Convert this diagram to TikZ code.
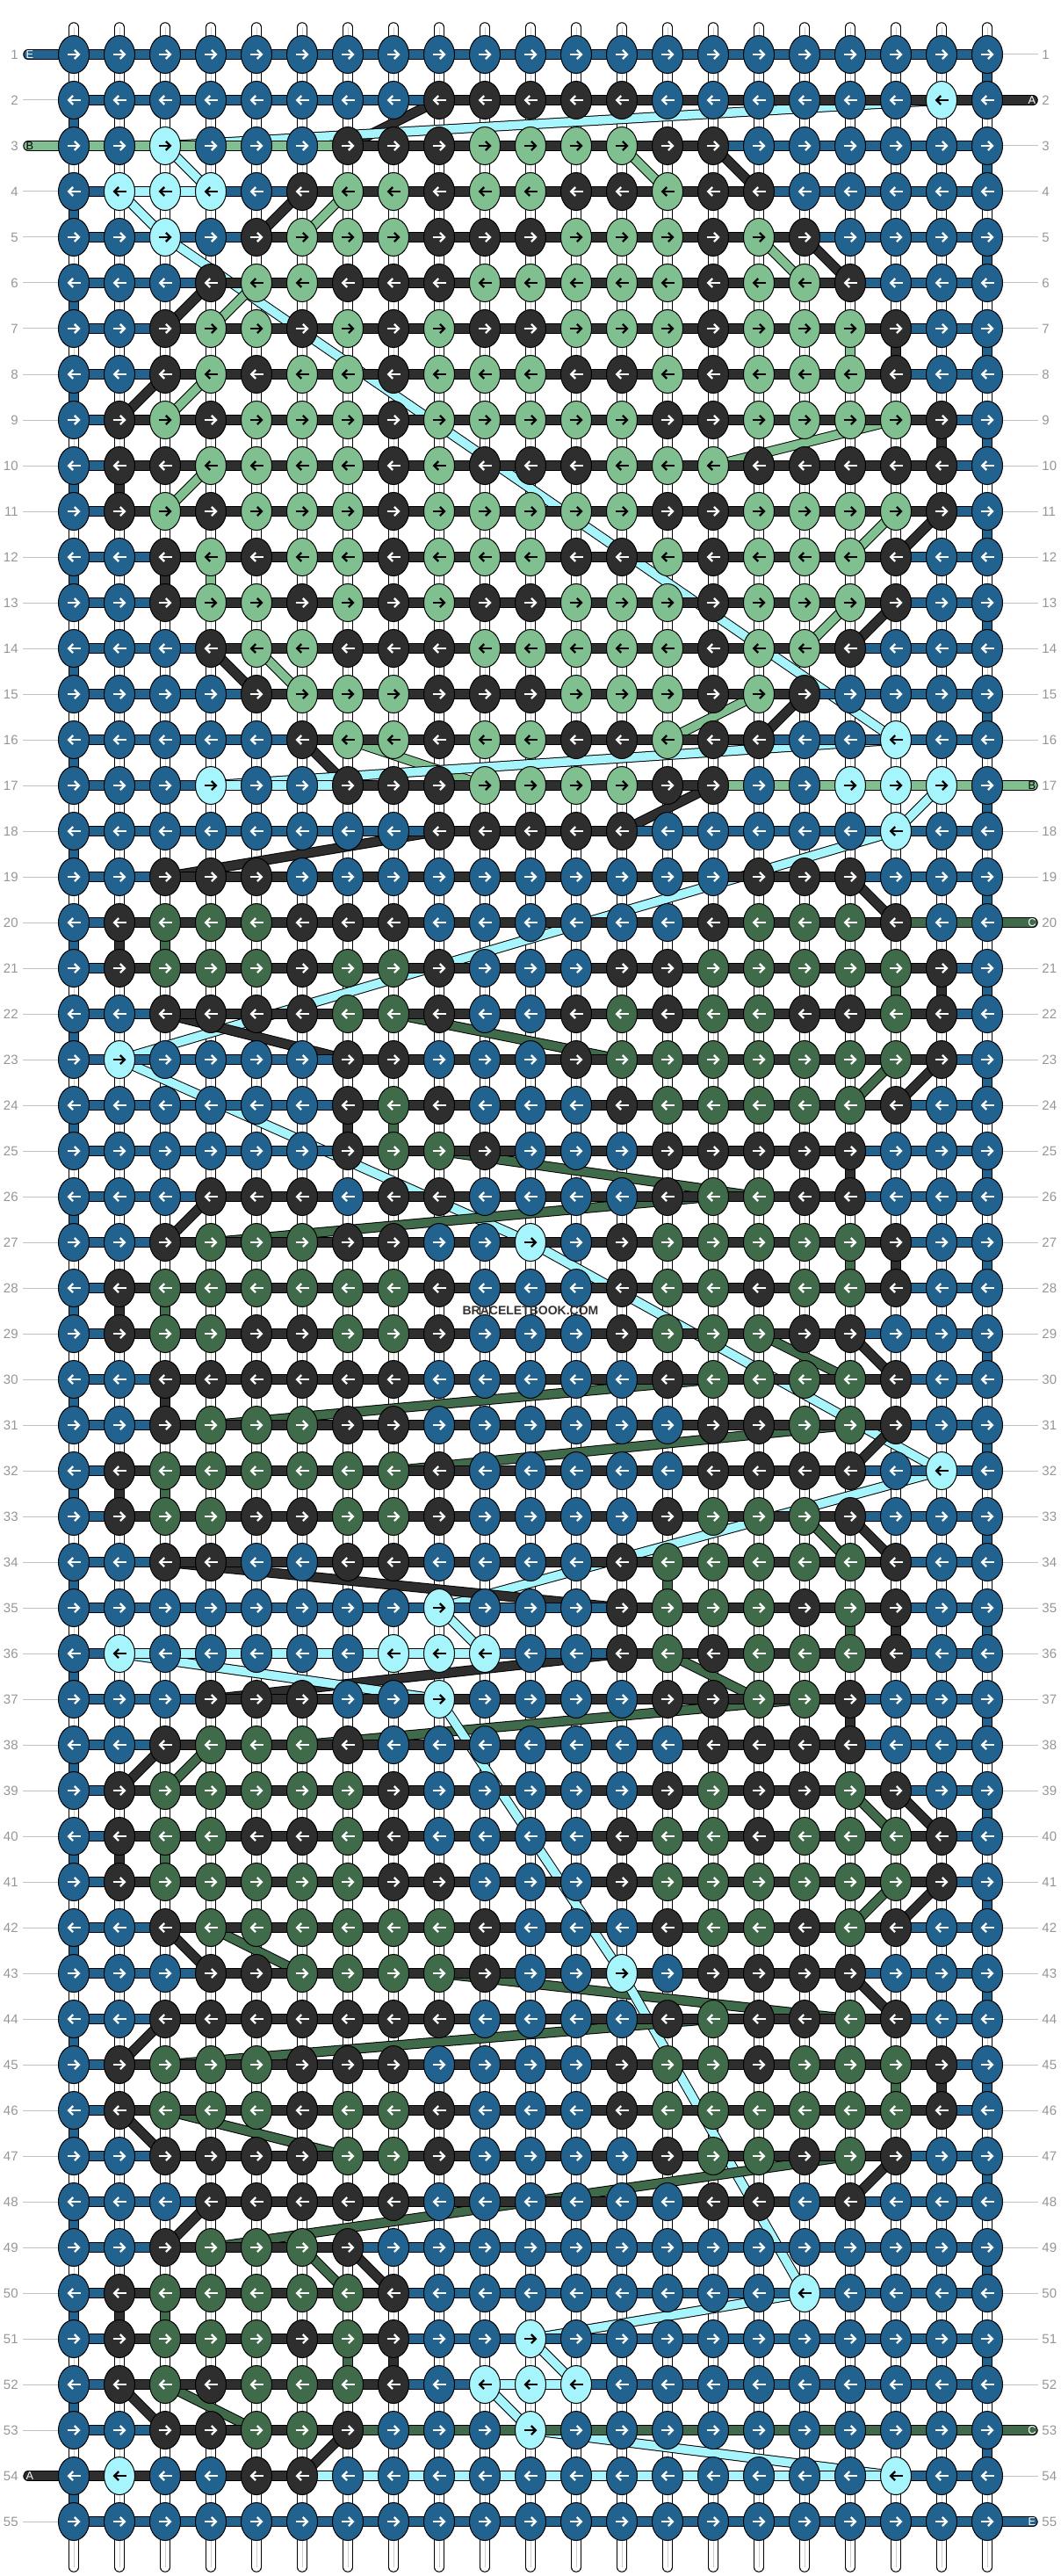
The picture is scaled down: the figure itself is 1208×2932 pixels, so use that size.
\documentclass[tikz,border=0pt]{standalone}
\usepackage{fontspec}
\setmainfont{Liberation Sans}
\usetikzlibrary{arrows.meta,backgrounds,shapes.geometric}
\definecolor{threadb}{RGB}{33,98,143}
\definecolor{threadk}{RGB}{46,46,46}
\definecolor{threadg}{RGB}{128,192,144}
\definecolor{threadd}{RGB}{64,107,74}
\definecolor{threadc}{RGB}{166,245,252}
\definecolor{rowgray}{RGB}{150,150,150}
\pgfdeclarelayer{warp}
\pgfdeclarelayer{diag}
\pgfdeclarelayer{weft}
\pgfsetlayers{warp,diag,weft,main}
\begin{document}
\begin{tikzpicture}[x=0.5pt,y=-0.5pt]
  \newcommand{\Xfirst}[0]{ 84 }
  \newcommand{\Yfirst}[0]{ 62 }
  \newcommand{\Xstep}[0]{ 52 }
  \newcommand{\Ystep}[0]{ 52 }
  \newcommand{\Xleft}[0]{ 32 }
  \newcommand{\Xright}[0]{ 1176 }

  \tikzstyle{knot}=[
    ellipse,
    draw=black,
    line width=0.5pt,
    minimum width=17.5pt,
    minimum height=21.5pt,
    inner sep=0pt,
    anchor=center,
  ]
  \tikzstyle{knotb}=[knot,fill=threadb]
  \tikzstyle{knotk}=[knot,fill=threadk]
  \tikzstyle{knotg}=[knot,fill=threadg]
  \tikzstyle{knotd}=[knot,fill=threadd]
  \tikzstyle{knotc}=[knot,fill=threadc]
  \tikzstyle{tip}=[line width=1.15pt,-{Straight Barb[length=2.5pt,width=5pt]}]
  \tikzstyle{tipb}=[tip,draw=white]
  \tikzstyle{tipk}=[tip,draw=white]
  \tikzstyle{tipd}=[tip,draw=white]
  \tikzstyle{tipg}=[tip,draw=black]
  \tikzstyle{tipc}=[tip,draw=black]
  \tikzstyle{strand}=[
    draw=black,
    double=thread#1,
    line width=0.5pt,
    double distance=4.75pt,
    line cap=round,
  ]
  \tikzstyle{warpedge}=[strand=w,double=white]
  \tikzstyle{warpcore}=[draw=black!20,line width=0.5pt]
  \tikzstyle{guide}=[draw=black!25,line width=0.5pt]
  \tikzstyle{rowlabel}=[text=rowgray,inner sep=0pt,font=\fontsize{7.5}{9}\selectfont]
  \tikzstyle{endlabel}=[inner sep=0pt,font=\fontsize{6.4}{7}\selectfont]
  \colorlet{threadw}{white}

  % #1: knot colour
  \def\knotLoop#1{%
    \ifx#1.\else
      \node[knot#1] (n-\rowidx-\colidx) at ({\Xfirst+\Xstep*\colidx},{\Yfirst+\Ystep*(\rowidx-1)}) {};
      \draw[tip#1] ([xshift=\tailx]n-\rowidx-\colidx.center) -- ([xshift=\headx]n-\rowidx-\colidx.center);
      \pgfmathtruncatemacro{\colidx}{\colidx+1}%
      \expandafter\knotLoop
    \fi}

  % #1: row
  % #2: knots, one letter per column
  % #3: weft runs, colour/from/to
  \newcommand{\buildRow}[3]{
    \def\rowidx{#1}
    \def\colidx{0}
    \ifodd#1\relax \def\tailx{-3.75pt}\def\headx{3.75pt}\else \def\tailx{3.75pt}\def\headx{-3.75pt}\fi
    \coordinate (n-#1-L) at (\Xleft,{\Yfirst+\Ystep*(#1-1)});
    \coordinate (n-#1-R) at (\Xright,{\Yfirst+\Ystep*(#1-1)});
    \knotLoop#2.
    \node[rowlabel,anchor=east] (lab-#1-L) at ([xshift=-5.5pt]n-#1-L) {#1};
    \node[rowlabel,anchor=west] (lab-#1-R) at ([xshift=5pt]n-#1-R) {#1};
    \begin{pgfonlayer}{warp}
      \draw[guide] ([xshift=-3pt]n-#1-L) -- (n-#1-0.center);
      \draw[guide] ([xshift=3pt]n-#1-R) -- (n-#1-20.center);
    \end{pgfonlayer}
    \begin{pgfonlayer}{weft}
      \foreach \thr/\colfrom/\colto in {#3} {
        \draw[strand=\thr] (n-#1-\colfrom.center) -- (n-#1-\colto.center);
      }
    \end{pgfonlayer}
  }

  % rows
  \buildRow{1}{bbbbbbbbbbbbbbbbbbbbb}{b/L/20}
  \buildRow{2}{bbbbbbbbkkkkkbbbbbbcb}{b/0/8,k/8/R}
  \buildRow{3}{bbcbbbkkkggggkkbbbbbb}{g/L/6,k/6/14,b/14/20}
  \buildRow{4}{bcccbkggkggkkgkkbbbbb}{b/0/1,c/1/3,b/3/5,k/5/15,b/15/20}
  \buildRow{5}{bbcbkgggkkkgggkgkbbbb}{b/0/4,k/4/16,b/16/20}
  \buildRow{6}{bbbkggkkkgggggkggkbbb}{b/0/3,k/3/17,b/17/20}
  \buildRow{7}{bbkggkgkgkkgggkgggkbb}{b/0/2,k/2/18,b/18/20}
  \buildRow{8}{bbkgkggkgggkkgkgggkbb}{b/0/2,k/2/18,b/18/20}
  \buildRow{9}{bkgkgggkgggggkkggggkb}{b/0/1,k/1/19,b/19/20}
  \buildRow{10}{bkkggggkgkkkgggkkkkkb}{b/0/1,k/1/19,b/19/20}
  \buildRow{11}{bkgkgggkgggggkkggggkb}{b/0/1,k/1/19,b/19/20}
  \buildRow{12}{bbkgkggkgggkkgkgggkbb}{b/0/2,k/2/18,b/18/20}
  \buildRow{13}{bbkggkgkgkkgggkgggkbb}{b/0/2,k/2/18,b/18/20}
  \buildRow{14}{bbbkggkkkgggggkggkbbb}{b/0/3,k/3/17,b/17/20}
  \buildRow{15}{bbbbkgggkkkgggkgkbbbb}{b/0/4,k/4/16,b/16/20}
  \buildRow{16}{bbbbbkggkggkkgkkbbcbb}{b/0/5,k/5/15,b/15/20}
  \buildRow{17}{bbbcbbkkkggggkkbbcccb}{b/0/3,c/3/6,k/6/14,g/14/R}
  \buildRow{18}{bbbbbbbbkkkkkbbbbbcbb}{b/0/8,k/8/12,b/12/20}
  \buildRow{19}{bbkkkbbbbbbbbbbkkkbbb}{b/0/2,k/2/17,b/17/20}
  \buildRow{20}{bkdddkkkbbbbbbkdddkbb}{b/0/1,k/1/18,d/18/R}
  \buildRow{21}{bkdddkddkbbbkkdddddkb}{b/0/1,k/1/19,b/19/20}
  \buildRow{22}{bbkkkkddkbbkdkddkkdkb}{b/0/2,k/2/19,b/19/20}
  \buildRow{23}{bcbbbbkkbbbkdddddddkb}{b/0/6,k/6/19,b/19/20}
  \buildRow{24}{bbbbbbkdkbbbkdddddkbb}{b/0/6,k/6/18,b/18/20}
  \buildRow{25}{bbbbbbkddkbbbkkkkkbbb}{b/0/6,k/6/17,b/17/20}
  \buildRow{26}{bbbkkkbkkbbbbkddkkbbb}{b/0/3,k/3/17,b/17/20}
  \buildRow{27}{bbkdddkkbbcbkdddddkbb}{b/0/2,k/2/18,b/18/20}
  \buildRow{28}{bkddddddkbbbkddkddkbb}{b/0/1,k/1/18,b/18/20}
  \buildRow{29}{bkddkkddkbbbkdddkkbbb}{b/0/1,k/1/17,b/17/20}
  \buildRow{30}{bbkkkkkkbbbbbkddddkbb}{b/0/2,k/2/18,b/18/20}
  \buildRow{31}{bbkdddkkbbbbbbkkddkbb}{b/0/2,k/2/18,b/18/20}
  \buildRow{32}{bkddddddkbbbbbkkkkbcb}{b/0/1,k/1/17,b/17/20}
  \buildRow{33}{bkddkkddkbbbbkdddkbbb}{b/0/1,k/1/17,b/17/20}
  \buildRow{34}{bbkkbbkkbbbbkdddddkbb}{b/0/2,k/2/18,b/18/20}
  \buildRow{35}{bbbbbbbbcbbbkdddkdkbb}{b/0/12,k/12/18,b/18/20}
  \buildRow{36}{bcbbbbbcccbbkdkdddkbb}{b/0/1,c/1/9,b/9/12,k/12/18,b/18/20}
  \buildRow{37}{bbbkkkbbcbbbbkkddkbbb}{b/0/3,k/3/17,b/17/20}
  \buildRow{38}{bbkdddkbbbbbbbkkkkbbb}{b/0/2,k/2/17,b/17/20}
  \buildRow{39}{bkdddddkbbbbbkdkkdkbb}{b/0/1,k/1/18,b/18/20}
  \buildRow{40}{bkddkkdkbbbbkddkdddkb}{b/0/1,k/1/19,b/19/20}
  \buildRow{41}{bkdddddkkbbbkddddddkb}{b/0/1,k/1/19,b/19/20}
  \buildRow{42}{bbkddddddkbbbkddkdkbb}{b/0/2,k/2/18,b/18/20}
  \buildRow{43}{bbbkkddddkbbcbkkkkbbb}{b/0/3,k/3/17,b/17/20}
  \buildRow{44}{bbkkkkkkkbbbbkdkkdkbb}{b/0/2,k/2/18,b/18/20}
  \buildRow{45}{bkdddkkkbbbbkddkdddkb}{b/0/1,k/1/19,b/19/20}
  \buildRow{46}{bkdddkddkbbbkddddddkb}{b/0/1,k/1/19,b/19/20}
  \buildRow{47}{bbkkkkddkbbbbkddkdkbb}{b/0/2,k/2/18,b/18/20}
  \buildRow{48}{bbbkkkkkbbbbbbkkbkbbb}{b/0/3,k/3/17,b/17/20}
  \buildRow{49}{bbkdddkbbbbbbbbbbbbbb}{b/0/2,k/2/6,b/6/20}
  \buildRow{50}{bkdddddkbbbbbbbbcbbbb}{b/0/1,k/1/7,b/7/20}
  \buildRow{51}{bkdddkdkbbcbbbbbbbbbb}{b/0/1,k/1/7,b/7/20}
  \buildRow{52}{bkdkdddkbcccbbbbbbbbb}{b/0/1,k/1/7,b/7/9,c/9/11,b/11/20}
  \buildRow{53}{bbkkddkbbbcbbbbbbbbbb}{b/0/2,k/2/6,d/6/R}
  \buildRow{54}{bcbbkkbbbbbbbbbbbbcbb}{k/L/5,c/5/18,b/18/20}
  \buildRow{55}{bbbbbbbbbbbbbbbbbbbbb}{b/0/R}

  % warp threads
  \begin{pgfonlayer}{warp}
    \foreach \col in {0,...,20} {
      \coordinate (top-\col) at ([yshift=15.5pt]n-1-\col.center);
      \coordinate (bot-\col) at ([yshift=-26pt]n-55-\col.center);
      \draw[warpedge] (top-\col) -- (bot-\col);
      \draw[warpcore] (top-\col) -- (bot-\col);
    }
  \end{pgfonlayer}

  % long and short diagonals
  \begin{pgfonlayer}{diag}
    \foreach \thr/\cola/\rowa/\colb/\rowb in {
      k/8/2/6/3,c/19/2/2/3,c/2/3/3/4,c/1/4/2/5,c/2/5/18/16,g/12/3/13/4,k/14/3/15/4,
      k/5/4/4/5,g/6/4/5/5,g/15/5/16/6,k/16/5/17/6,k/3/6/2/7,g/4/6/3/7,k/2/8/1/9,
      g/3/8/2/9,g/18/9/14/10,g/3/10/2/11,g/18/11/17/12,k/19/11/18/12,g/17/13/16/14,
      k/18/13/17/14,k/3/14/4/15,g/4/14/5/15,g/15/15/13/16,k/16/15/15/16,k/5/16/6/17,
      g/6/16/9/17,c/18/16/3/17,k/14/17/12/18,c/19/17/18/18,k/8/18/2/19,c/18/18/1/23,
      k/17/19/18/20,k/2/22/6/23,d/7/22/12/23,d/18/23/17/24,k/19/23/18/24,c/1/23/10/27,
      d/8/25/15/26,k/3/26/2/27,d/14/26/3/27,c/10/27/19/32,d/15/29/17/30,k/17/29/18/30,
      d/14/30/3/31,k/18/31/17/32,d/17/31/7/32,c/19/32/8/35,d/16/33/17/34,k/17/33/18/34,
      k/2/34/12/35,c/8/35/9/36,k/12/36/3/37,d/13/36/15/37,c/1/36/8/37,d/16/37/5/38,
      c/8/37/12/43,k/2/38/1/39,d/3/38/2/39,d/17/39/18/40,k/18/39/19/40,d/18/41/17/42,
      k/19/41/18/42,k/2/42/3/43,d/3/42/5/43,k/17/43/18/44,d/8/43/17/44,c/12/43/16/50,
      k/2/44/1/45,d/14/44/2/45,k/1/46/2/47,d/2/46/6/47,k/18/47/17/48,d/17/47/3/49,
      k/3/48/2/49,d/5/49/6/50,k/6/49/7/50,c/16/50/10/51,c/10/51/11/52,k/1/52/2/53,
      d/2/52/4/53,c/9/52/10/53,k/6/53/5/54,c/10/53/18/54} {
      \draw[strand=\thr] (n-\rowa-\cola.center) -- (n-\rowb-\colb.center);
    }
  \end{pgfonlayer}

  % turns between rows
  \begin{pgfonlayer}{weft}
    \foreach \thr/\col/\rowa in {
      g/17/7,k/18/7,k/19/9,k/1/10,k/2/12,g/3/12,k/1/20,d/2/20,d/18/21,k/19/21,k/6/24,
      d/7/24,k/17/25,d/17/27,k/18/27,k/1/28,d/2/28,k/2/30,k/1/32,d/2/32,d/13/34,d/17/35,
      k/18/35,k/17/37,k/1/40,d/2/40,d/18/45,k/19/45,k/1/50,d/2/50,d/6/51,k/7/51,
      b/0/2,b/0/4,b/0/6,b/0/8,b/0/10,b/0/12,b/0/14,b/0/16,b/0/18,b/0/20,b/0/22,b/0/24,
      b/0/26,b/0/28,b/0/30,b/0/32,b/0/34,b/0/36,b/0/38,b/0/40,b/0/42,b/0/44,b/0/46,
      b/0/48,b/0/50,b/0/52,b/0/54,
      b/20/1,b/20/3,b/20/5,b/20/7,b/20/9,b/20/11,b/20/13,b/20/15,b/20/17,b/20/19,b/20/21,
      b/20/23,b/20/25,b/20/27,b/20/29,b/20/31,b/20/33,b/20/35,b/20/37,b/20/39,b/20/41,
      b/20/43,b/20/45,b/20/47,b/20/49,b/20/51,b/20/53} {
      \pgfmathtruncatemacro{\rowb}{\rowa+1}
      \draw[strand=\thr] (n-\rowa-\col.center) -- (n-\rowb-\col.center);
    }
  \end{pgfonlayer}

  % thread ends
  \node[endlabel,text=white] (end-E) at ([xshift=1pt]n-1-L) {E};
  \node[endlabel,text=black] (end-B) at ([xshift=1pt]n-3-L) {B};
  \node[endlabel,text=white] (end-A) at ([xshift=1pt]n-54-L) {A};
  \node[endlabel,text=white] (end-Ar) at ([xshift=-0.5pt]n-2-R) {A};
  \node[endlabel,text=black] (end-Br) at ([xshift=-0.5pt]n-17-R) {B};
  \node[endlabel,text=white] (end-Cr) at ([xshift=-0.5pt]n-20-R) {C};
  \node[endlabel,text=white] (end-Cs) at ([xshift=-0.5pt]n-53-R) {C};
  \node[endlabel,text=white] (end-Er) at ([xshift=-0.5pt]n-55-R) {E};

  \node[text=black!80,inner sep=0pt,font=\fontsize{7}{8}\selectfont\bfseries] (mark) at (604,1492) {BRACELETBOOK.COM};

  \useasboundingbox (0,0) rectangle (1208,2932);
\end{tikzpicture}
\end{document}
